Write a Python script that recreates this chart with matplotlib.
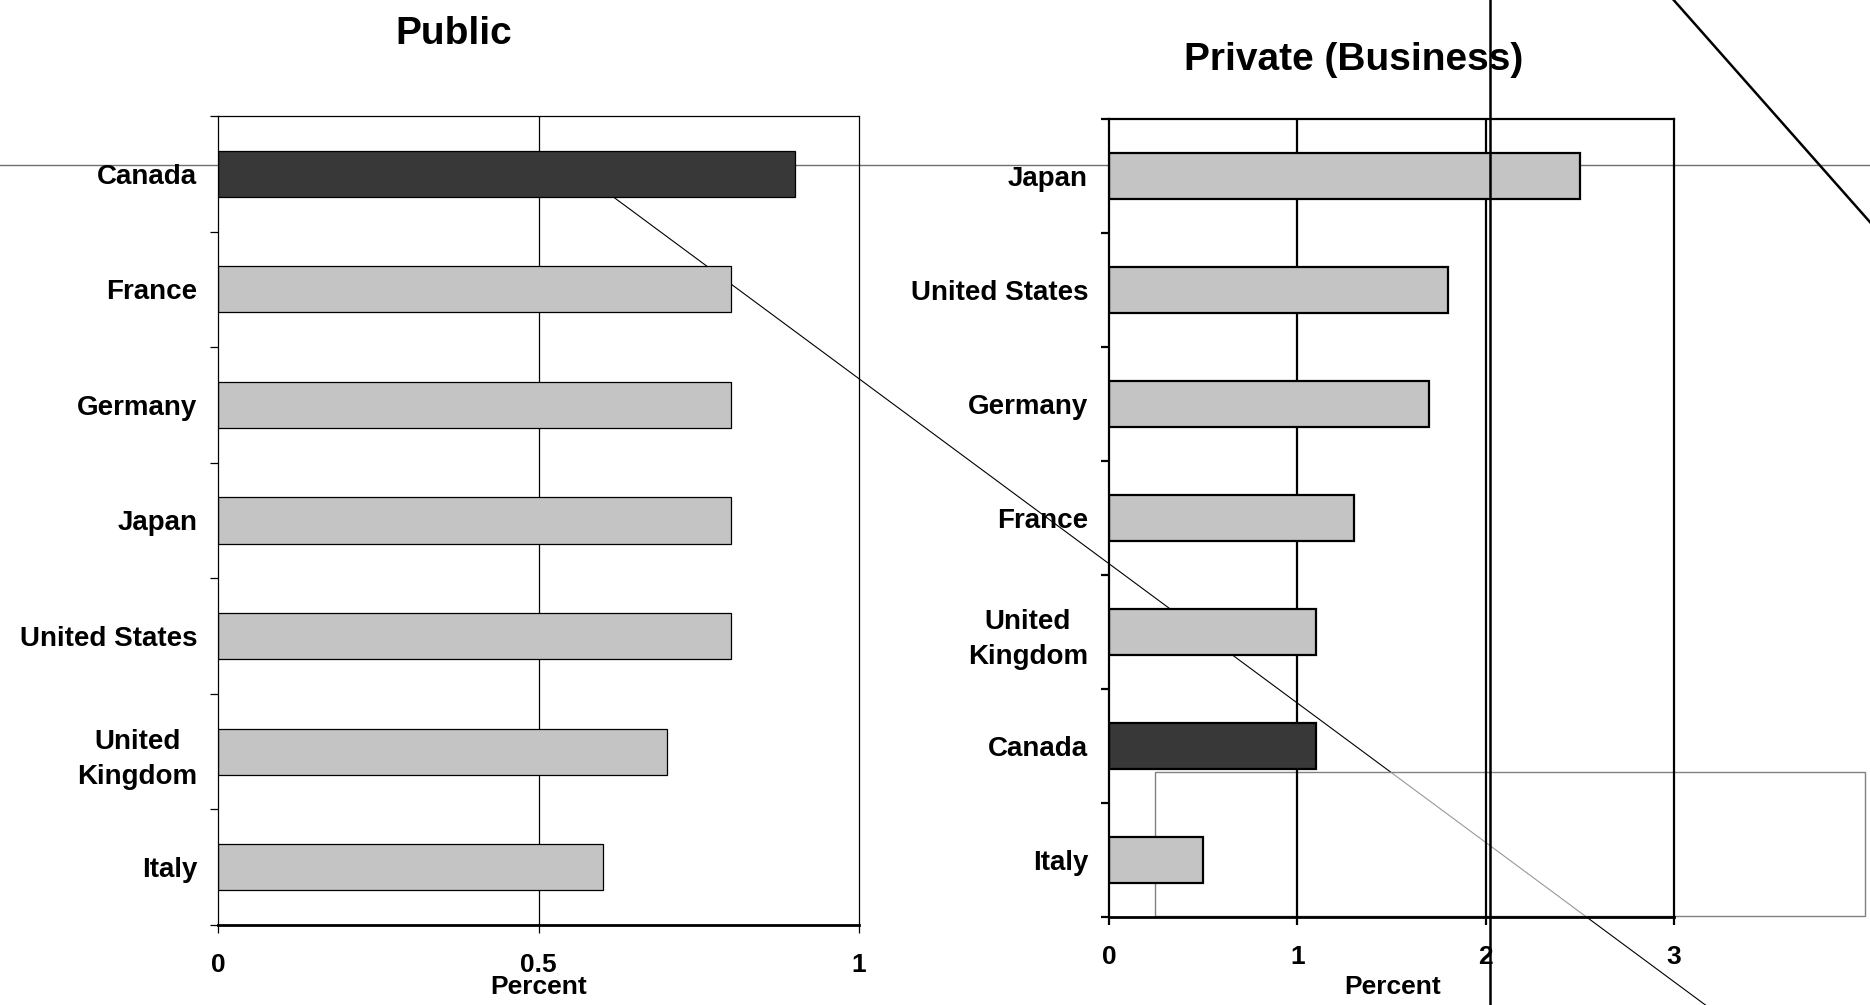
import numpy as np
import matplotlib.pyplot as plt
from matplotlib.lines import Line2D
from matplotlib.patches import Rectangle

plt.rcParams['font.family'] = ['Liberation Sans', 'DejaVu Sans']
plt.rcParams['font.weight'] = 'bold'

# public R&D spending, percent (top to bottom)
public_countries = ['Canada', 'France', 'Germany', 'Japan', 'United States',
                    'United\nKingdom', 'Italy']
public_values = [0.9, 0.8, 0.8, 0.8, 0.8, 0.7, 0.6]

# private (business) R&D spending, percent (top to bottom)
private_countries = ['Japan', 'United States', 'Germany', 'France',
                     'United\nKingdom', 'Canada', 'Italy']
private_values = [2.5, 1.8, 1.7, 1.3, 1.1, 1.1, 0.5]

highlight = 'Canada'
light = '#c4c4c4'
dark = '#383838'

# stray slide connector lines (figure fraction)
thin_horizontal = [(0.0, 0.836), (1.0, 0.836)]
thin_diagonal = [(0.328, 0.804), (0.912, 0.0)]
thick_vertical = [(0.797, 0.0), (0.797, 1.0)]
thick_diagonal = [(0.895, 1.0), (1.0, 0.779)]
stray_box = (0.6176, 0.0886, 0.3797, 0.1433)

fig = plt.figure(figsize=(18.7, 10.05), dpi=100)
ax1 = fig.add_axes([0.1166, 0.0796, 0.3428, 0.805])
ax2 = fig.add_axes([0.5930, 0.0876, 0.3021, 0.794])


def draw_panel(ax, countries, values, xmax, xticks, tick_labels, lw):
    ax.set_facecolor('none')
    y = np.arange(len(countries))
    colors = [dark if c == highlight else light for c in countries]
    ax.barh(y, values, height=0.4, color=colors, edgecolor='black',
            linewidth=lw, zorder=2)
    ax.set_xlim(0, xmax)
    ax.set_ylim(len(countries) - 0.5, -0.5)
    ax.set_xticks(xticks)
    ax.set_xticklabels(tick_labels, fontsize=19, fontweight='bold')
    ax.set_yticks(np.arange(len(countries) + 1) - 0.5)
    ax.set_yticklabels([])
    ax.set_yticks(y, minor=True)
    ax.set_yticklabels(countries, minor=True, fontsize=20, fontweight='bold',
                       multialignment='center', linespacing=1.45)
    ax.tick_params(axis='y', which='minor', length=0, pad=15)
    ax.tick_params(axis='y', which='major', length=6, width=lw, direction='out')
    ax.tick_params(axis='x', length=6, width=lw, direction='out', pad=14)
    for x in xticks[1:-1]:
        ax.axvline(x, color='black', linewidth=lw, zorder=0.5)
    for s in ax.spines.values():
        s.set_linewidth(lw)
    ax.spines['bottom'].set_linewidth(2.0)
    ax.set_xlabel('Percent', fontsize=19, fontweight='bold', va='center')


draw_panel(ax1, public_countries, public_values, 1,
           [0, 0.5, 1], ['0', '0.5', '1'], 0.9)
draw_panel(ax2, private_countries, private_values, 3,
           [0, 1, 2, 3], ['0', '1', '2', '3'], 1.6)
ax1.xaxis.set_label_coords(0.50, -0.0766)
ax2.xaxis.set_label_coords(0.502, -0.0877)

fig.text(0.2428, 0.966, 'Public', fontsize=28, fontweight='bold',
         ha='center', va='center')
fig.text(0.724, 0.940, 'Private (Business)', fontsize=28, fontweight='bold',
         ha='center', va='center')

# stray lines behind the bars
for seg, col, w in [(thin_horizontal, '#707070', 1.0), (thin_diagonal, 'black', 0.8)]:
    (x0, y0), (x1, y1) = seg
    ax1.add_line(Line2D([x0, x1], [y0, y1], transform=fig.transFigure,
                        color=col, linewidth=w, clip_on=False, zorder=0.3))
ax2.add_patch(Rectangle(stray_box[:2], stray_box[2], stray_box[3],
                        transform=fig.transFigure, facecolor=(1, 1, 1, 0.6),
                        edgecolor='#808080', linewidth=1.0, clip_on=False,
                        zorder=0.4))
# stray lines on top
for seg in [thick_vertical, thick_diagonal]:
    (x0, y0), (x1, y1) = seg
    fig.add_artist(Line2D([x0, x1], [y0, y1], transform=fig.transFigure,
                          color='black', linewidth=1.8, zorder=5))

fig.savefig('out.png', dpi=100)
